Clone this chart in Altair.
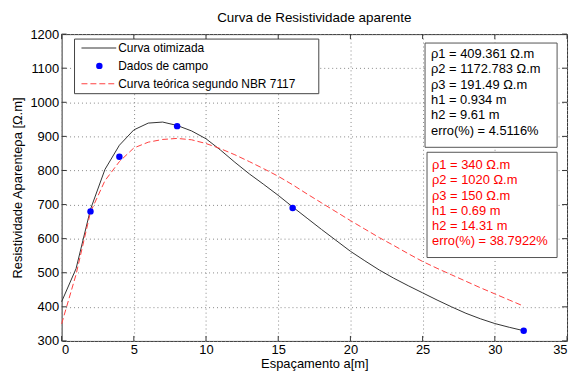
import altair as alt
import pandas as pd

# ---- data ----
opt_x = [0, 1, 2, 3, 4, 5, 6, 7, 8, 9, 10, 11, 12, 13, 14, 15, 16, 17, 18, 19, 20,
         21, 22, 23, 24, 25, 26, 27, 28, 29, 30, 31, 32]
opt_y = [415, 512, 686, 803, 874, 919, 939, 942, 932, 916, 893, 860, 824, 790, 759, 727, 693,
         660, 627, 595, 563, 535, 508, 484, 462, 441, 420, 400, 381, 365, 351, 340, 330]

teo_x = [0, 1, 2, 3, 4, 5, 6, 7, 8, 9, 10, 11, 12, 13, 14, 15, 16, 17, 18, 19, 20,
         21, 22, 23, 24, 25, 26, 27, 28, 29, 30, 31, 32]
teo_y = [350, 495, 678, 770, 826, 866, 883, 891, 894, 890, 879, 864, 846, 826, 805, 783, 758,
         731, 705, 679, 653, 628, 603, 580, 556, 533, 513, 494, 475, 456, 438, 420, 402]

campo_x = [2, 4, 8, 16, 32]
campo_y = [680, 840, 930, 690, 330]

x_ticks = [0, 5, 10, 15, 20, 25, 30, 35]
y_ticks = [300, 400, 500, 600, 700, 800, 900, 1000, 1100, 1200]

legend_labels = ["Curva otimizada", "Dados de campo", "Curva teórica segundo NBR 7117"]
box1_lines = ["ρ1 = 409.361 Ω.m", "ρ2 = 1172.783 Ω.m", "ρ3 = 191.49 Ω.m",
              "h1 = 0.934 m", "h2 = 9.61 m", "erro(%) = 4.5116%"]
box2_lines = ["ρ1 = 340 Ω.m", "ρ2 = 1020 Ω.m", "ρ3 = 150 Ω.m",
              "h1 = 0.69 m", "h2 = 14.31 m", "erro(%) = 38.7922%"]

W, H = 509, 309
FONT = "Liberation Sans"

opt_df = pd.DataFrame({"a": opt_x, "rho": opt_y})
teo_df = pd.DataFrame({"a": teo_x, "rho": teo_y})
campo_df = pd.DataFrame({"a": campo_x, "rho": campo_y})
xt_df = pd.DataFrame({"a": x_ticks})
yt_df = pd.DataFrame({"rho": y_ticks})
one = pd.DataFrame({"k": [0]})

xscale = alt.Scale(domain=[0, 35], nice=False, zero=False)
yscale = alt.Scale(domain=[300, 1200], nice=False, zero=False)
x_axis = alt.Axis(values=x_ticks, format="d", labelOverlap=False,
                  title="Espaçamento a[m]", grid=True, ticks=False, domain=False)
y_axis = alt.Axis(values=y_ticks, format="d", labelOverlap=False,
                  title="Resistividade Aparenteρa [Ω.m]", grid=True,
                  ticks=False, domain=False)


def xe():
    return alt.X("a:Q", scale=xscale, axis=x_axis)


def ye():
    return alt.Y("rho:Q", scale=yscale, axis=y_axis)


opt_line = alt.Chart(opt_df).mark_line(color="#333333", strokeWidth=1).encode(x=xe(), y=ye())
teo_line = alt.Chart(teo_df).mark_line(color="#ff4040", strokeWidth=1,
                                       strokeDash=[6, 3]).encode(x=xe(), y=ye())
pts = alt.Chart(campo_df).mark_circle(color="#0000ff", size=42, opacity=1).encode(
    x=xe(), y=ye())

# inward ticks on all four sides
tick_b = alt.Chart(xt_df).mark_rule(color="#333", strokeWidth=1).encode(
    x=xe(), y=alt.value(H), y2=alt.value(H - 5))
tick_t = alt.Chart(xt_df).mark_rule(color="#333", strokeWidth=1).encode(
    x=xe(), y=alt.value(0), y2=alt.value(5))
tick_l = alt.Chart(yt_df).mark_rule(color="#333", strokeWidth=1).encode(
    y=ye(), x=alt.value(0), x2=alt.value(5))
tick_r = alt.Chart(yt_df).mark_rule(color="#333", strokeWidth=1).encode(
    y=ye(), x=alt.value(W), x2=alt.value(W - 5))

# legend
leg_box = alt.Chart(one).mark_rect(fill="white", stroke="#444", strokeWidth=1).encode(
    x=alt.value(13), x2=alt.value(259), y=alt.value(5), y2=alt.value(60))
leg_l1 = alt.Chart(one).mark_rule(color="#333", strokeWidth=1).encode(
    x=alt.value(20), x2=alt.value(55), y=alt.value(14))
leg_p = alt.Chart(one).mark_circle(color="#0000ff", size=42, opacity=1).encode(
    x=alt.value(38), y=alt.value(32))
leg_l3 = alt.Chart(one).mark_rule(color="#ff4040", strokeWidth=1, strokeDash=[6, 3]).encode(
    x=alt.value(20), x2=alt.value(55), y=alt.value(50))
leg_txt = alt.Chart(one).mark_text(
    text="\n".join(legend_labels), lineBreak="\n", lineHeight=18, align="left",
    baseline="middle", font=FONT, fontSize=12, color="black").encode(
    x=alt.value(57), y=alt.value(14))

# parameter boxes
box1 = alt.Chart(one).mark_rect(fill="white", stroke="#555", strokeWidth=1).encode(
    x=alt.value(366), x2=alt.value(499), y=alt.value(9), y2=alt.value(114))
box1_txt = alt.Chart(one).mark_text(
    text="\n".join(box1_lines), lineBreak="\n", lineHeight=15.5, align="left",
    baseline="middle", font=FONT, fontSize=13, color="black").encode(
    x=alt.value(372), y=alt.value(20))
box2 = alt.Chart(one).mark_rect(fill="white", stroke="#555", strokeWidth=1).encode(
    x=alt.value(368), x2=alt.value(499), y=alt.value(119), y2=alt.value(225))
box2_txt = alt.Chart(one).mark_text(
    text="\n".join(box2_lines), lineBreak="\n", lineHeight=15.3, align="left",
    baseline="middle", font=FONT, fontSize=13, color="#ff0000").encode(
    x=alt.value(373), y=alt.value(132))

chart = alt.layer(
    opt_line, teo_line, pts, tick_b, tick_t, tick_l, tick_r,
    leg_box, leg_l1, leg_p, leg_l3, leg_txt,
    box1, box1_txt, box2, box2_txt
).properties(
    width=W, height=H,
    title=alt.TitleParams("Curva de Resistividade aparente", fontSize=13.5, fontWeight="normal",
                          font=FONT, color="black", offset=4),
    autosize=alt.AutoSizeParams(type="none"),
    padding={"left": 54, "top": 25, "right": 3, "bottom": 30},
).configure_view(
    stroke="#333", strokeWidth=1
).configure_axis(
    labelFont=FONT, labelFontSize=13, labelColor="black",
    titleFont=FONT, titleFontSize=13, titleColor="black", titleFontWeight="normal",
    gridColor="#888", gridDash=[1, 3], gridWidth=1, gridOpacity=1,
    labelPadding=3,
).configure_axisX(
    titlePadding=1
).configure_axisY(
    titlePadding=5
)

chart.save("out.html", embed_options={"renderer": "svg", "actions": False})
